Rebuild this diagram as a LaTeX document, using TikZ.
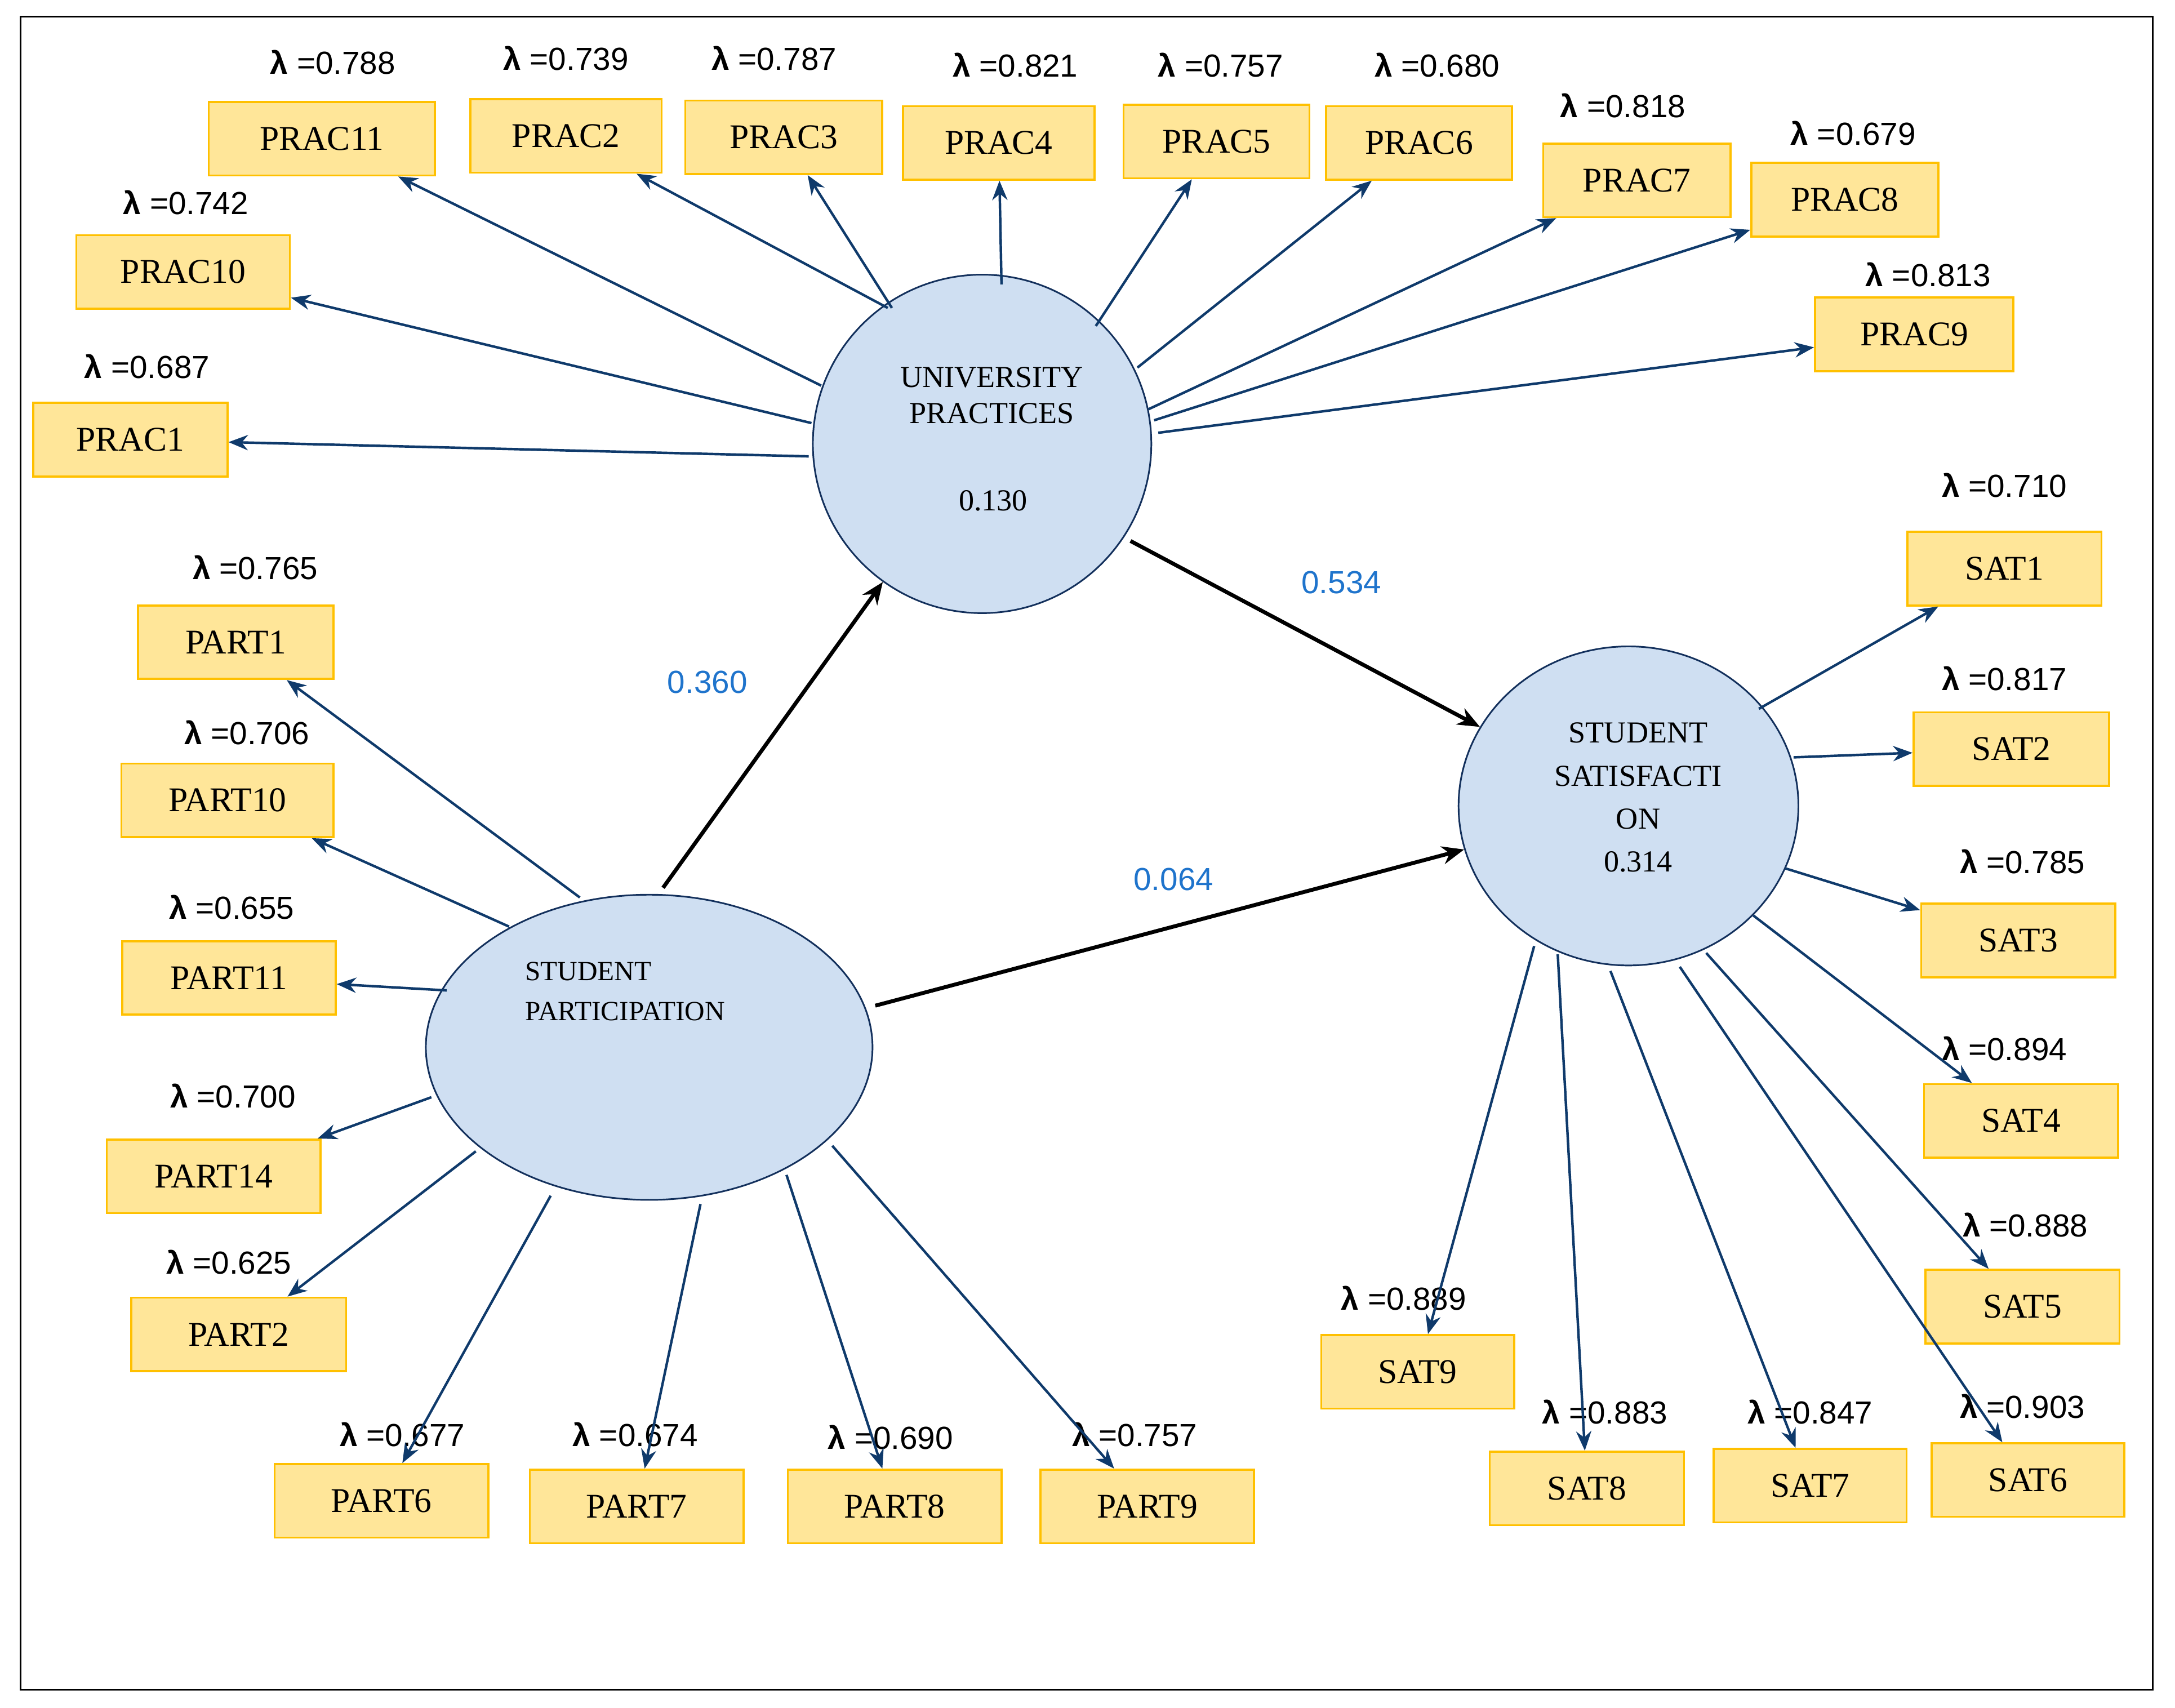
\documentclass[tikz,border=0pt]{standalone}
\usepackage{fontspec}
\setmainfont{Liberation Serif}
\newfontfamily\sans{Liberation Sans}
\usetikzlibrary{shapes.geometric,arrows.meta}
\definecolor{bxfill}{HTML}{FFE699}
\definecolor{bxline}{HTML}{FFC000}
\definecolor{lvfill}{HTML}{CFDFF2}
\definecolor{lvline}{HTML}{13305C}
\definecolor{arr}{HTML}{0F3A6B}
\definecolor{coef}{HTML}{1F74CC}
\begin{document}
\begin{tikzpicture}[x=1pt,y=-1pt,
 bx/.style={draw=bxline,fill=bxfill,line width=1.5pt,minimum height=53pt,inner sep=0pt,font=\fontsize{25}{28}\selectfont},
 lam/.style={font=\sans\fontsize{23}{26}\selectfont},
 lv/.style={draw=lvline,fill=lvfill,line width=1.2pt},
 ld/.style={draw=arr,line width=1.8pt,-{Stealth[length=14pt,width=11pt]}},
 st/.style={draw=black,line width=2.8pt,-{Stealth[length=16pt,width=13pt]}},
 cf/.style={text=coef,font=\sans\fontsize{23}{26}\selectfont}]
\useasboundingbox (0,0) rectangle (1568,1231);
\draw[line width=1.2pt] (15,12) rectangle (1552,1218);
% latent variables
\node[lv,circle,minimum size=244pt] (UP) at (708,320) {};
\node[font=\fontsize{22}{26}\selectfont,align=center] at (715,285) {UNIVERSITY\\PRACTICES};
\node[font=\fontsize{22}{26}\selectfont] at (716,361) {0.130};
\node[lv,ellipse,minimum width=245pt,minimum height=230pt] (SS) at (1174,581) {};
\node[font=\fontsize{22}{31}\selectfont,align=center] at (1181,575) {STUDENT\\SATISFACTI\\ON\\0.314};
\node[lv,ellipse,minimum width=322pt,minimum height=220pt] (SP) at (468,755) {};
\node[font=\fontsize{20}{29}\selectfont,align=left,anchor=north west] at (375,690) {STUDENT\\PARTICIPATION};
% boxes
\foreach \n/\x/\y/\w/\l/\lx/\ly in {
PRAC11/232/100/163/0.788/240/45, PRAC2/408/98/138/0.739/408/42, PRAC3/565/99/142/0.787/558/42,
PRAC4/720/103/138/0.821/732/47, PRAC5/877/102/134/0.757/880/47, PRAC6/1023/103/134/0.680/1036/47,
PRAC7/1180/130/135/0.818/1170/76, PRAC8/1330/144/135/0.679/1336/96, PRAC9/1380/241/143/0.813/1390/198,
PRAC10/132/196/154/0.742/134/146, PRAC1/94/317/140/0.687/106/264,
PART1/170/463/141/0.765/184/409, PART10/164/577/153/0.706/178/528, PART11/165/705/154/0.655/167/654,
PART14/154/848/154/0.700/168/790, PART2/172/962/155/0.625/165/910, PART6/275/1082/154/0.677/290/1034,
PART7/459/1086/154/0.674/458/1034, PART8/645/1086/154/0.690/642/1036, PART9/827/1086/154/0.757/818/1034,
SAT1/1445/410/140/0.710/1445/350, SAT2/1450/540/141/0.817/1445/489, SAT3/1455/678/140/0.785/1458/621,
SAT4/1457/808/140/0.894/1445/756, SAT5/1458/942/140/0.888/1460/883, SAT6/1462/1067/139/0.903/1458/1014,
SAT7/1305/1071/139/0.847/1305/1018, SAT8/1144/1073/140/0.883/1157/1018, SAT9/1022/989/139/0.889/1012/936}
{\node[bx,minimum width=\w pt] (\n) at (\x,\y) {\n};
 \node[lam] (L\n) at (\lx,\ly) {\textbf{λ} =\l};}
% start coordinates
\foreach \n/\x/\y in {PRAC11/592/278, PRAC2/640/222, PRAC3/643/222, PRAC4/722/205, PRAC5/790/235,
PRAC6/820/265, PRAC7/828/295, PRAC8/832/303, PRAC9/835/312, PRAC10/585/305, PRAC1/583/329,
PART1/418/647, PART10/367/668, PART11/322/714, PART14/311/791, PART2/343/830, PART6/397/862,
PART7/505/868, PART8/567/847, PART9/600/826,
SAT1/1268/511, SAT2/1293/546, SAT3/1287/626, SAT4/1264/660, SAT5/1230/687, SAT6/1211/697,
SAT7/1161/700, SAT8/1123/688, SAT9/1106/682}
{\coordinate (s\n) at (\x,\y); \draw[ld] (s\n) -- (\n);}
% structural paths
\coordinate (a1) at (478,640); \coordinate (a2) at (815,390); \coordinate (a3) at (631,725);
\draw[st] (a1) -- (UP);
\draw[st] (a2) -- (SS);
\draw[st] (a3) -- (SS);
\node[cf] at (510,492) {0.360};
\node[cf] at (967,420) {0.534};
\node[cf] at (846,634) {0.064};
\end{tikzpicture}
\end{document}
